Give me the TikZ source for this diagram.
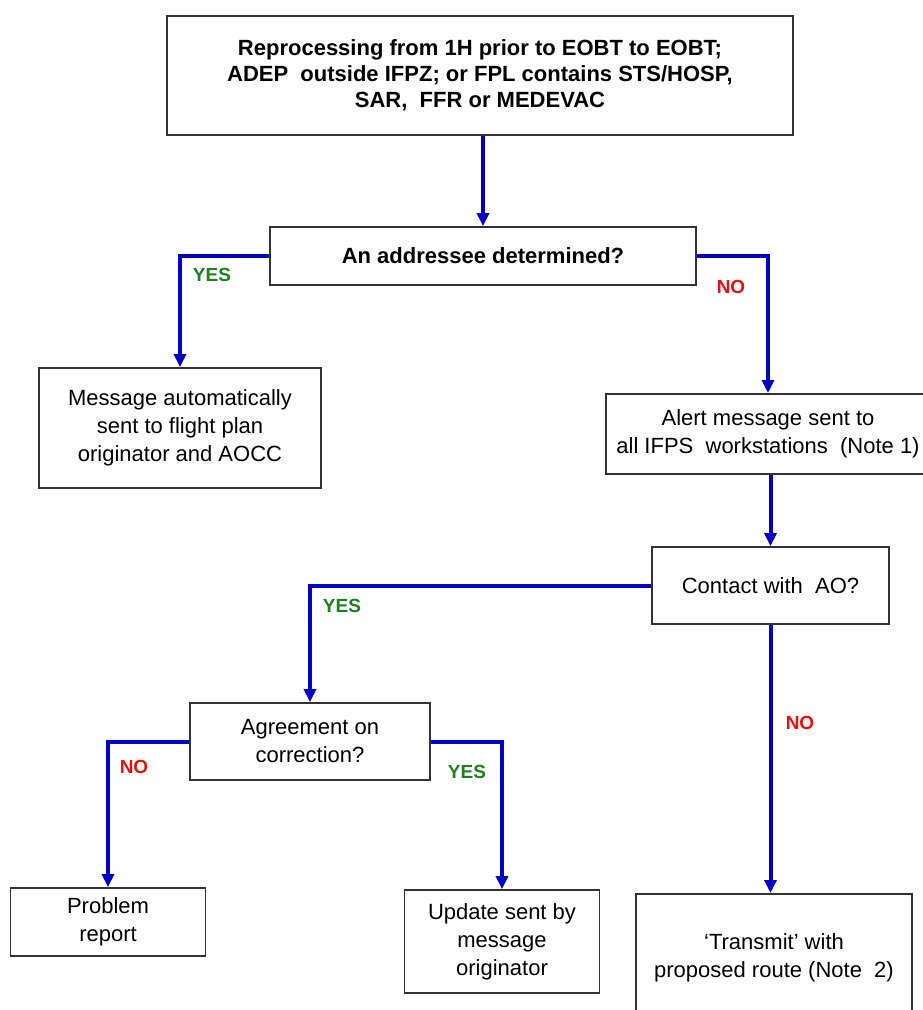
\documentclass[tikz,border=0pt]{standalone}
\usepackage{fontspec}
\setmainfont{Liberation Sans}
\usetikzlibrary{arrows.meta}
\definecolor{flowblue}{RGB}{0,0,200}
\definecolor{yesgreen}{RGB}{30,128,30}
\definecolor{nored}{RGB}{232,16,16}

\begin{document}
\begin{tikzpicture}[x=1pt,y=-1pt,
    box/.style={draw=black!80,line width=1.8pt,fill=white,align=center,inner sep=0pt,
      font=\fontsize{22}{28}\selectfont},
    link/.style={draw=flowblue,line width=4pt,-{Triangle[length=13pt,width=12pt]}},
    yes/.style={text=yesgreen,font=\bfseries\fontsize{19}{22}\selectfont},
    no/.style={text=nored,font=\bfseries\fontsize{19}{22}\selectfont}]
  \useasboundingbox (0,0) rectangle (923,1010);

  % boxes
  \node[box,minimum width=626pt,minimum height=119pt,font=\bfseries\fontsize{22}{26}\selectfont]
    (start) at (480,75.5) {Reprocessing from 1H prior to EOBT to EOBT;\\
      ADEP\ \ outside IFPZ; or FPL contains STS/HOSP,\\ SAR,\ \ FFR or MEDEVAC};
  \node[box,minimum width=426pt,minimum height=58pt,font=\bfseries\fontsize{22}{26}\selectfont]
    (addr) at (483,256) {An addressee determined?};
  \node[box,minimum width=282pt,minimum height=120pt] (auto) at (180,428)
    {Message automatically\\ sent to flight plan\\ originator and AOCC};
  \node[box,anchor=north,minimum width=324pt,minimum height=80pt] (alert) at (768,393)
    {Alert message sent to\\ all IFPS\ \ workstations\ \ (Note 1)};
  \node[box,minimum width=237pt,minimum height=77pt] (contact) at (770.5,585.5) {Contact with\ \ AO?};
  \node[box,minimum width=240pt,minimum height=77pt] (agree) at (310,741.5) {Agreement on\\ correction?};
  \node[box,minimum width=195pt,minimum height=68pt] (problem) at (108,922) {Problem\\ report};
  \node[box,minimum width=195pt,minimum height=103pt] (update) at (502,941.5)
    {Update sent by\\ message\\ originator};
  \node[box,anchor=north,minimum width=276pt,minimum height=127pt] (transmit) at (774,893)
    {‘Transmit’ with\\ proposed route (Note\ \ 2)};

  % connectors
  \draw[link] (addr.north |- start.south) -- (addr.north);
  \draw[link] (addr.west) -| (auto.north);
  \draw[link] (addr.east) -| (alert.north);
  \draw[link] (alert.south -| contact.north) -- (contact.north);
  \draw[link] (contact.west) -| (agree.north);
  \draw[link] (contact.south) -- (contact.south |- transmit.north);
  \draw[link] (agree.west) -| (problem.north);
  \draw[link] (agree.east) -| (update.north);

  % labels
  \node[yes] (yesA) at (212,275) {YES};
  \node[no] (noA) at (731,287) {NO};
  \node[yes] (yesB) at (342,606) {YES};
  \node[no] (noB) at (800,723) {NO};
  \node[no] (noC) at (134,767) {NO};
  \node[yes] (yesC) at (467,772) {YES};
\end{tikzpicture}
\end{document}
